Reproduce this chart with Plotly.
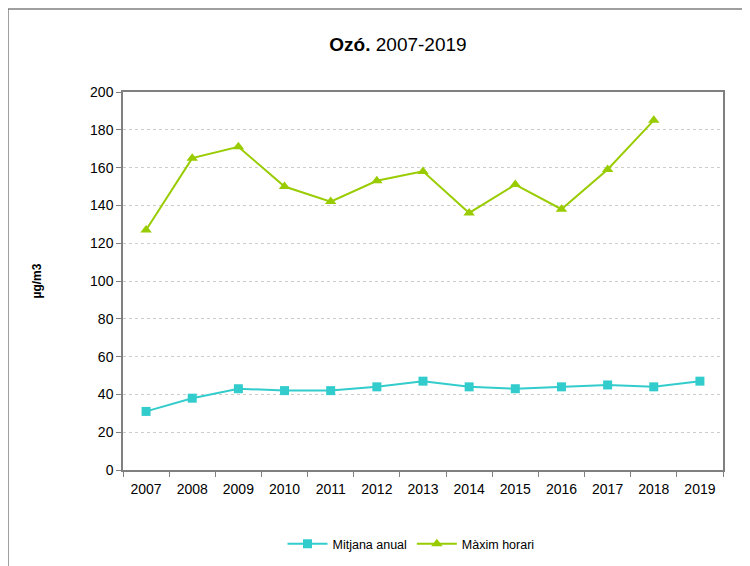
import plotly.graph_objects as go

years = ["2007", "2008", "2009", "2010", "2011", "2012", "2013",
         "2014", "2015", "2016", "2017", "2018", "2019"]
mitjana_anual = [31, 38, 43, 42, 42, 44, 47, 44, 43, 44, 45, 44, 47]
maxim_horari = [127, 165, 171, 150, 142, 153, 158, 136, 151, 138, 159, 185, None]

font = "Liberation Sans, Arial, sans-serif"

fig = go.Figure()
fig.add_trace(go.Scatter(x=years, y=mitjana_anual, name="Mitjana anual",
                         mode="lines+markers",
                         line={"color": "#33CCCC", "width": 2},
                         marker={"symbol": "square", "size": 9, "color": "#33CCCC"}))
fig.add_trace(go.Scatter(x=years, y=maxim_horari, name="Màxim horari",
                         mode="lines+markers",
                         line={"color": "#99CC00", "width": 2},
                         marker={"symbol": "triangle-up", "size": 10, "color": "#99CC00"}))

# page has an 8px body margin, so margins are shifted to compensate
fig.update_layout({"width": 750, "height": 566,
                   "margin": {"l": 115, "r": 35, "t": 84, "b": 104},
                   "paper_bgcolor": "white", "plot_bgcolor": "white",
                   "font": {"family": font, "size": 13.5, "color": "black"},
                   "showlegend": True})

fig.update_layout(title={"text": "<b>Ozó.</b> 2007-2019", "x": 0.52, "xanchor": "center",
                         "y": 0.935, "yanchor": "middle",
                         "font": {"size": 19, "family": font, "color": "black"}})

fig.update_layout(legend={"orientation": "h", "x": 0.48, "xanchor": "center",
                          "y": -0.196, "yanchor": "middle",
                          "font": {"size": 12.5}, "itemwidth": 40})

fig.update_xaxes(type="category", range=[-0.5, len(years) - 0.5],
                 showline=True, linecolor="#808080", linewidth=1.5,
                 mirror=True, ticks="outside", tickson="boundaries", ticklen=5,
                 tickcolor="#808080", showgrid=False, tickfont={"size": 14},
                 ticklabelstandoff=5)
fig.update_yaxes(range=[0, 200], dtick=20, showline=True, linecolor="#808080",
                 linewidth=1.5, mirror=True, ticks="outside", ticklen=5,
                 tickcolor="#808080", gridcolor="#CCCCCC", griddash="dot",
                 zeroline=False, tickfont={"size": 14},
                 title={"text": "<b>µg/m3</b>", "font": {"size": 12}, "standoff": 46})

# outer chart frame
fig.add_shape(type="rect", xref="paper", yref="paper",
              x0=-115 / 600, x1=1.2, y0=-0.4, y1=1 + 83 / 378,
              line={"color": "#808080", "width": 1.5}, layer="below")

fig.write_html("out.html")
